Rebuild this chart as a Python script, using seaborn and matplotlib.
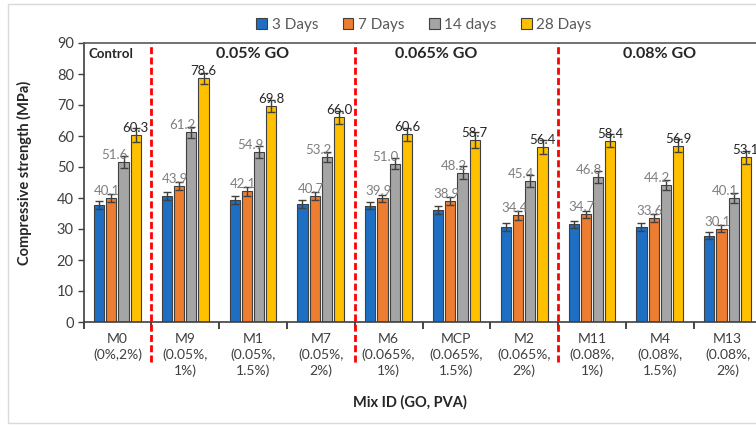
import numpy as np
import pandas as pd
import seaborn as sns
import matplotlib
matplotlib.use("Agg")
import matplotlib.pyplot as plt
from matplotlib.patches import Rectangle

# ---------------- data ----------------
mix_ids = ["M0", "M9", "M1", "M7", "M6", "MCP", "M2", "M11", "M4", "M13"]
mix_desc = ["(0%,2%)", "(0.05%,\n1%)", "(0.05%,\n1.5%)", "(0.05%,\n2%)",
            "(0.065%,\n1%)", "(0.065%,\n1.5%)", "(0.065%,\n2%)",
            "(0.08%,\n1%)", "(0.08%,\n1.5%)", "(0.08%,\n2%)"]
ages = ["3 Days", "7 Days", "14 days", "28 Days"]
d3 = [37.7, 40.7, 39.3, 38.1, 37.5, 36.2, 30.6, 31.5, 30.6, 27.8]
d7 = [40.1, 43.9, 42.1, 40.7, 39.9, 38.9, 34.4, 34.7, 33.6, 30.1]
d14 = [51.6, 61.2, 54.9, 53.2, 51.0, 48.2, 45.4, 46.8, 44.2, 40.1]
d28 = [60.3, 78.6, 69.8, 66.0, 60.6, 58.7, 56.4, 58.4, 56.9, 53.1]
e3 = [1.2, 1.3, 1.3, 1.2, 1.2, 1.3, 1.2, 1.2, 1.2, 1.1]
e7 = [1.3, 1.3, 1.4, 1.3, 1.2, 1.3, 1.4, 1.2, 1.2, 1.1]
e14 = [1.9, 1.8, 2.0, 1.7, 1.8, 2.0, 1.9, 1.8, 1.7, 1.6]
e28 = [2.3, 1.7, 1.9, 2.0, 2.1, 2.5, 2.2, 2.1, 2.0, 2.2]
group_titles = ["Control", "0.05% GO", "0.065% GO", "0.08% GO"]

colors = ["#1E6FC4", "#ED7D31", "#A5A5A5", "#FFC000"]

df = pd.DataFrame({
    "mix": mix_ids * 4,
    "age": np.repeat(ages, len(mix_ids)),
    "val": d3 + d7 + d14 + d28,
})

# ---------------- figure ----------------
sns.set_style("ticks")
plt.rcParams["font.family"] = ["Lato", "DejaVu Sans"]

W, H = 756, 425
fig = plt.figure(figsize=(W / 100, H / 100), dpi=100)
ax = fig.add_axes([83.5 / W, (H - 322) / H, 678 / W, 279 / H])

sns.barplot(data=df, x="mix", y="val", hue="age", order=mix_ids,
            hue_order=ages, palette=colors, saturation=1, width=0.72,
            gap=0.15, errorbar=None, edgecolor="#404040", linewidth=0.8,
            legend=False, ax=ax, zorder=2)

errs = [e3, e7, e14, e28]
lab_col = [None, "#7F7F7F", "#7F7F7F", "#262626"]
lab_dx = [0, -4, -9, 0]
vals = [d3, d7, d14, d28]
bar_conts = list(ax.containers)
for k, cont in enumerate(bar_conts):
    xs = [b.get_x() + b.get_width() / 2 for b in cont]
    hs = [b.get_height() for b in cont]
    ax.errorbar(xs, hs, yerr=errs[k], fmt="none", ecolor="#404040",
                elinewidth=1, capsize=3, capthick=1, zorder=3)
    if lab_col[k] is not None:
        for x, h, v in zip(xs, hs, vals[k]):
            ax.annotate(f"{v:.1f}", (x, h), xytext=(lab_dx[k], 1),
                        textcoords="offset pixels", ha="center", va="bottom",
                        fontsize=9.5, color=lab_col[k], zorder=4)

ax.set_ylim(0, 90)
ax.set_xlim(-0.5, len(mix_ids) - 0.5)
ax.set_yticks(range(0, 91, 10))
ax.tick_params(axis="y", length=4, width=1, color="#404040",
               labelsize=10.5, labelcolor="#404040", pad=3)

ax.set_xticks(range(len(mix_ids)))
ax.set_xticklabels([f"{m}\n{d}" for m, d in zip(mix_ids, mix_desc)],
                   fontsize=10, color="#404040", linespacing=1.3)
ax.tick_params(axis="x", which="major", length=0, pad=8)
ax.set_xticks(np.arange(-0.5, len(mix_ids), 1.0), minor=True)
ax.tick_params(axis="x", which="minor", length=5, width=1.2,
               color="#262626", direction="out")

for s in ["left", "bottom", "top", "right"]:
    ax.spines[s].set_color("#404040")
    ax.spines[s].set_linewidth(1.2)
ax.spines["top"].set_color("#595959")

# red dashed separators
for xs in [0.5, 3.5, 6.5]:
    ax.plot([xs, xs], [-12.9, 90], color="#FF0000", lw=2,
            ls=(0, (2.5, 1.2)), clip_on=False, zorder=5)

# group titles
ax.text(-0.43, 86.5, group_titles[0], fontsize=9.5, fontweight="bold",
        ha="left", va="center", color="#262626")
for xg, t in zip([2.0, 4.7, 8.0], group_titles[1:]):
    ax.text(xg, 86.3, t, fontsize=11.5, fontweight="bold", ha="center",
            va="center", color="#262626")

ax.set_ylabel("Compressive strength (MPa)", fontsize=10.5,
              fontweight="bold", color="#262626")
ax.yaxis.set_label_coords(-0.076, 0.534)
ax.set_xlabel("Mix ID (GO, PVA)", fontsize=10.5, fontweight="bold",
              color="#262626")
ax.xaxis.set_label_coords(0.481, -0.262)

# legend
handles = [Rectangle((0, 0), 1, 1, facecolor=c, edgecolor="#404040", lw=0.8)
           for c in colors]
fig.legend(handles, ages, loc="center", bbox_to_anchor=(424 / W, 1 - 25 / H),
           ncol=4, frameon=False, fontsize=11, handlelength=0.7,
           handleheight=0.7, handletextpad=0.3, columnspacing=1.6,
           labelcolor="#595959")

# light figure border
fig.add_artist(Rectangle((8 / W, 2 / H), 1.2, (421 - 2) / H,
                         transform=fig.transFigure, fill=False,
                         edgecolor="#D9D9D9", lw=1, clip_on=False))

fig.savefig("out.png", dpi=100)
